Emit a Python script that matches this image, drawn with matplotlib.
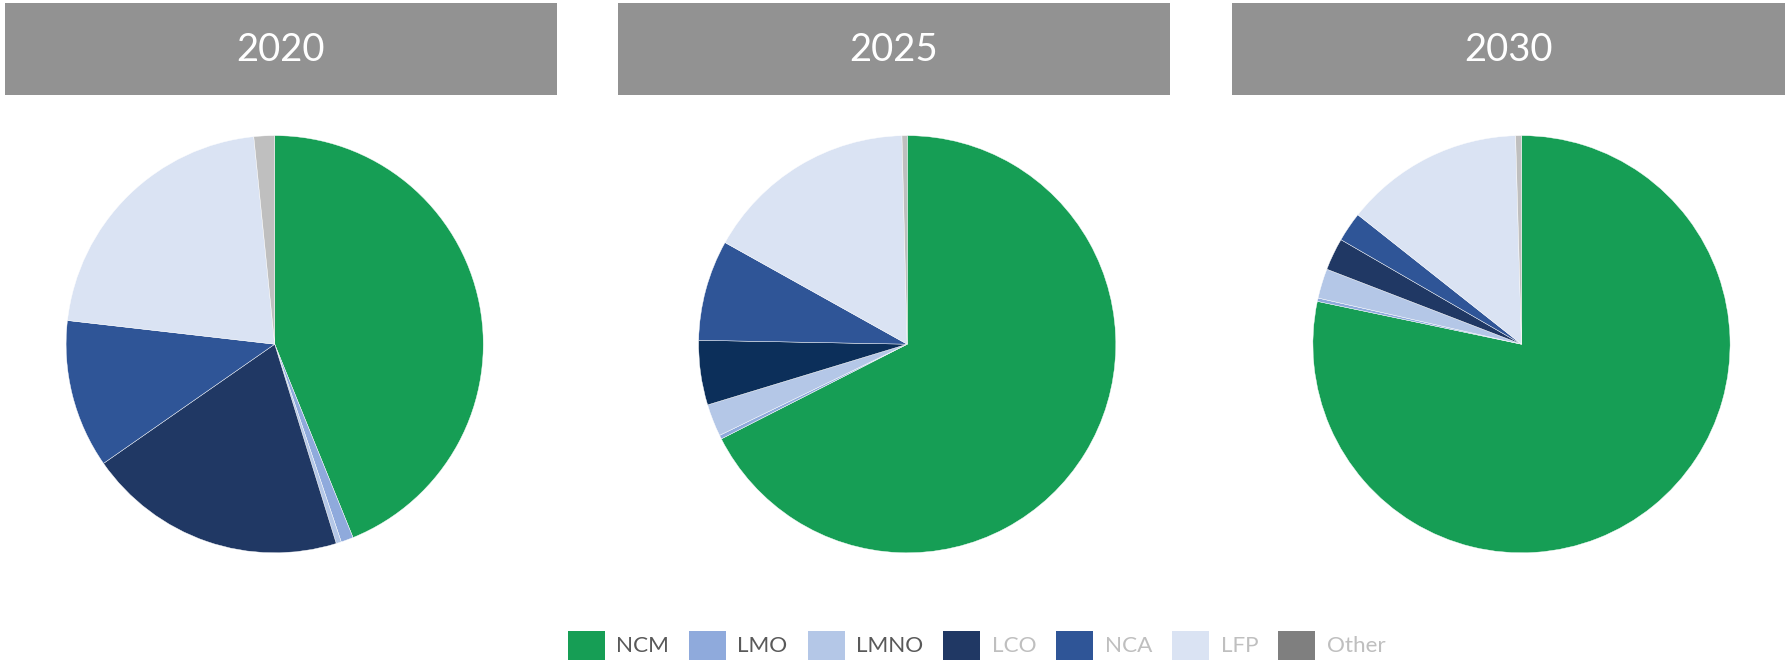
import matplotlib
matplotlib.use("Agg")
import matplotlib.pyplot as plt
from matplotlib.patches import Rectangle

plt.rcParams["font.family"] = ["Lato", "DejaVu Sans"]

years = ["2020", "2025", "2030"]
chemistries = ["NCM", "LMO", "LMNO", "LCO", "NCA", "LFP", "Other"]

# market share (%) per chemistry, same order as chemistries
share_2020 = [43.9, 0.96, 0.4, 20.1, 11.5, 21.6, 1.6]
share_2025 = [67.5, 0.3, 2.5, 5.0, 7.8, 16.5, 0.4]
share_2030 = [78.3, 0.26, 2.3, 2.5, 2.3, 13.9, 0.45]
shares = [share_2020, share_2025, share_2030]

legend_colors = ["#169E55", "#8FAADC", "#B4C7E7", "#203864", "#2F5597", "#DAE3F3", "#7F7F7F"]
slice_colors = [
    ["#169E55", "#8FAADC", "#B4C7E7", "#203864", "#2F5597", "#DAE3F3", "#BFBFBF"],
    ["#169E55", "#8FAADC", "#B4C7E7", "#0C2F5A", "#2F5597", "#DAE3F3", "#BFBFBF"],
    ["#169E55", "#8FAADC", "#B4C7E7", "#203864", "#2F5597", "#DAE3F3", "#BFBFBF"],
]
label_colors = ["#595959", "#595959", "#595959", "#BFBFBF", "#BFBFBF", "#BFBFBF", "#BFBFBF"]

W, H = 1787, 662
fig = plt.figure(figsize=(W / 100, H / 100), dpi=100)

# header bars (pixel coords from the top-left)
headers = [(4.6, 557), (618, 1170), (1232, 1785)]
for (x0, x1), year in zip(headers, years):
    fig.add_artist(Rectangle((x0 / W, 1 - 94.6 / H), (x1 - x0) / W, 91.2 / H,
                             transform=fig.transFigure, facecolor="#929292",
                             edgecolor="none"))
    fig.text((x0 + x1) / 2 / W, 1 - 50 / H, year, ha="center", va="center",
             color="white", fontsize=27.5)

# pies
centers = [274.7, 907.2, 1521.5]
cy, r = 344.2, 208.6
for cx, vals, cols in zip(centers, shares, slice_colors):
    ax = fig.add_axes([(cx - r) / W, (H - cy - r) / H, 2 * r / W, 2 * r / H])
    ax.pie(vals, colors=cols, startangle=90, counterclock=False, radius=1,
           wedgeprops=dict(edgecolor="white", linewidth=0.3))
    ax.set_xlim(-1, 1)
    ax.set_ylim(-1, 1)
    ax.set_aspect("equal")
    ax.axis("off")

# legend row
renderer = fig.canvas.get_renderer()
x = 567.6
for name, col, tcol in zip(chemistries, legend_colors, label_colors):
    fig.add_artist(Rectangle((x / W, 1 - 660 / H), 37 / W, 29 / H,
                             transform=fig.transFigure, facecolor=col,
                             edgecolor="none"))
    t = fig.text((x + 37 + 11.5) / W, 1 - 645.5 / H, name, ha="left",
                 va="center", color=tcol, fontsize=16.2)
    bb = t.get_window_extent(renderer)
    x = bb.x1 + 20

fig.savefig("out.png", dpi=100)
